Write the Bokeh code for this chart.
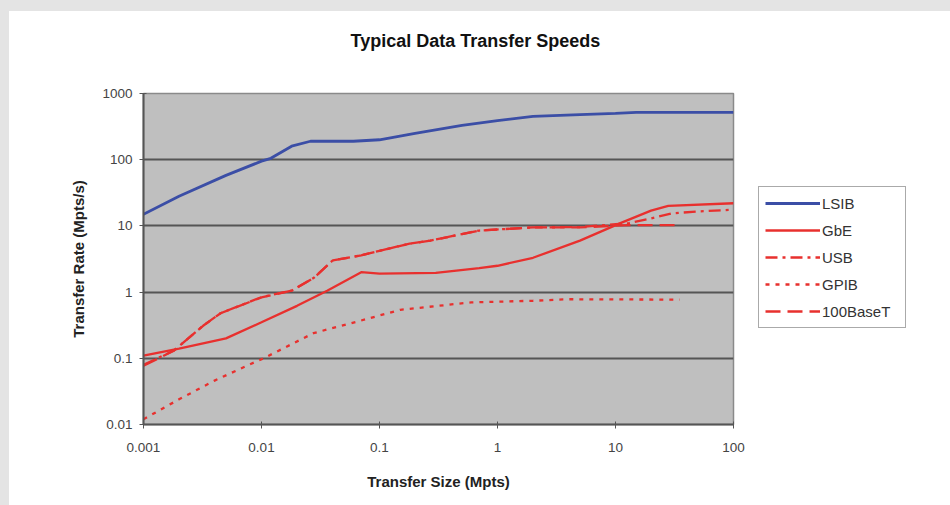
from bokeh.plotting import figure
from bokeh.models import Range1d, FixedTicker, Legend, LegendItem, Title
from bokeh.layouts import row, column
from bokeh.embed import file_html
from bokeh.resources import INLINE

title_text = "Typical Data Transfer Speeds"
x_title = "Transfer Size (Mpts)"
y_title = "Transfer Rate (Mpts/s)"

x_ticks = [0.001, 0.01, 0.1, 1, 10, 100]
x_tick_labels = ["0.001", "0.01", "0.1", "1", "10", "100"]
y_ticks = [0.01, 0.1, 1, 10, 100, 1000]
y_tick_labels = ["0.01", "0.1", "1", "10", "100", "1000"]

series_names = ["LSIB", "GbE", "USB", "GPIB", "100BaseT"]

lsib_x = [0.001, 0.002, 0.005, 0.01, 0.012, 0.018, 0.026, 0.06, 0.1, 0.2, 0.5, 1, 2, 5, 10, 15, 100]
lsib_y = [15, 28, 58, 95, 105, 160, 190, 190, 200, 250, 330, 390, 450, 480, 500, 520, 520]

gbe_x = [0.001, 0.002, 0.005, 0.01, 0.02, 0.036, 0.07, 0.1, 0.3, 0.7, 1, 2, 5, 11, 20, 28, 100]
gbe_y = [0.11, 0.14, 0.2, 0.35, 0.62, 1.05, 2.0, 1.9, 1.95, 2.3, 2.5, 3.3, 6, 11, 17, 20, 22]

usb_x = [0.001, 0.0018, 0.0032, 0.0045, 0.01, 0.018, 0.028, 0.04, 0.07, 0.1, 0.18, 0.27, 0.7, 2, 5, 13, 20, 30, 50, 100]
usb_y = [0.08, 0.13, 0.31, 0.48, 0.84, 1.05, 1.66, 3.0, 3.6, 4.2, 5.4, 6.0, 8.5, 9.5, 9.6, 11, 13, 15.5, 16.5, 17.6]

gpib_x = [0.001, 0.002, 0.004, 0.0076, 0.0104, 0.0276, 0.069, 0.15, 0.6, 2, 4, 35]
gpib_y = [0.012, 0.024, 0.046, 0.078, 0.1, 0.24, 0.37, 0.54, 0.7, 0.74, 0.78, 0.77]

base_x = [0.001, 0.0018, 0.0032, 0.0045, 0.01, 0.018, 0.028, 0.04, 0.07, 0.1, 0.18, 0.27, 0.7, 2, 5, 13, 35]
base_y = [0.077, 0.13, 0.31, 0.48, 0.83, 1.05, 1.66, 3.0, 3.6, 4.2, 5.4, 6.0, 8.5, 9.5, 9.5, 10.3, 10.3]

FONT = "Liberation Sans"
RED = "#e8302e"
BLUE = "#3b4ea6"

styles = [
    dict(line_color=BLUE, line_width=2.8),
    dict(line_color=RED, line_width=2.3),
    dict(line_color=RED, line_width=2.3, line_dash="12 5 3 5"),
    dict(line_color=RED, line_width=2.3, line_dash="4 6"),
    dict(line_color=RED, line_width=2.3, line_dash="15 7"),
]
series = [(lsib_x, lsib_y), (gbe_x, gbe_y), (usb_x, usb_y), (gpib_x, gpib_y), (base_x, base_y)]

p = figure(width=744, height=494, x_axis_type="log", y_axis_type="log",
           x_range=Range1d(0.001, 100), y_range=Range1d(0.01, 1000),
           output_backend="svg", toolbar_location=None,
           min_border_left=134, min_border_right=20, min_border_top=82, min_border_bottom=81)
p.background_fill_color = "#bfbfbf"
p.border_fill_color = "white"
p.outline_line_color = "#8a8a8a"
p.outline_line_width = 1.5

# thin empty spacer panel between frame and title (keeps the title high without moving the frame)
spacer = Title(text=" ", text_font_size="1px", standoff=40)
p.add_layout(spacer, "above")

p.title.text = title_text
p.title.align = "left"
p.title.offset = 207
p.title.standoff = 0
p.title.text_font = FONT
p.title.text_font_size = "18px"
p.title.text_font_style = "bold"
p.title.text_color = "#111111"

p.xgrid.visible = False
p.ygrid.grid_line_color = "#555555"
p.ygrid.grid_line_width = 2
p.ygrid.ticker = FixedTicker(ticks=y_ticks)

p.xaxis.ticker = FixedTicker(ticks=x_ticks, minor_ticks=[])
p.yaxis.ticker = FixedTicker(ticks=y_ticks, minor_ticks=[])
p.xaxis.major_label_overrides = {t: l for t, l in zip(x_ticks, x_tick_labels)}
p.yaxis.major_label_overrides = {t: l for t, l in zip(y_ticks, y_tick_labels)}

for ax in (p.xaxis, p.yaxis):
    ax.axis_line_color = "#555555"
    ax.axis_line_width = 2
    ax.major_tick_line_color = "#555555"
    ax.major_tick_out = 4
    ax.major_tick_in = 3
    ax.minor_tick_line_color = None
    ax.major_label_text_font = FONT
    ax.major_label_text_font_size = "13.5px"
    ax.major_label_text_color = "#444444"
    ax.axis_label_text_font = FONT
    ax.axis_label_text_font_size = "15px"
    ax.axis_label_text_font_style = "bold"
    ax.axis_label_text_color = "#222222"

p.xaxis.axis_label = x_title
p.yaxis.axis_label = y_title
p.xaxis.major_label_standoff = 14
p.yaxis.major_label_standoff = 7
p.xaxis.axis_label_standoff = 18
p.yaxis.axis_label_standoff = 12

for (xs, ys), st in zip(series, styles):
    p.line(xs, ys, **st)

# legend panel: a separate figure so the legend is not clipped by the plot frame.
# Its ranges are set far away from the data so only the legend shows.
p2 = figure(width=197, height=494, x_range=Range1d(1e6, 2e6), y_range=Range1d(1e6, 2e6),
            output_backend="svg", toolbar_location=None,
            x_axis_location=None, y_axis_location=None,
            min_border_left=0, min_border_right=0, min_border_top=0, min_border_bottom=0)
p2.grid.visible = False
p2.outline_line_color = None
p2.background_fill_color = "white"
p2.border_fill_color = "white"

items = []
for name, (xs, ys), st in zip(series_names, series, styles):
    r = p2.line(xs, ys, **st)
    items.append(LegendItem(label=name, renderers=[r]))

legend = Legend(items=items, location=(5, 96))
legend.border_line_color = "#555555"
legend.border_line_width = 1.5
legend.background_fill_color = "white"
legend.label_text_font = FONT
legend.label_text_font_size = "15px"
legend.label_text_color = "#333333"
legend.glyph_width = 55
legend.glyph_height = 20
legend.label_height = 20
legend.label_width = 77
legend.label_standoff = 2
legend.spacing = 7
legend.padding = 6
legend.margin = 0
p2.add_layout(legend, "center")

inner = row(p, p2, styles={"background-color": "white"}, width=941, height=494)
layout = column(inner, styles={"background-color": "#e4e4e4", "padding-left": "9px", "padding-top": "11px"},
                width=950, height=505)

open("out.html", "w").write(file_html(layout, INLINE))
